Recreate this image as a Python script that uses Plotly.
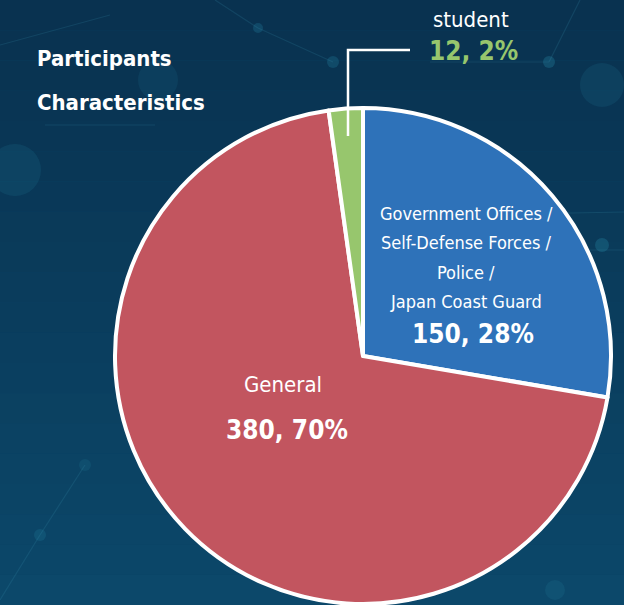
import plotly.graph_objects as go

categories = ["Government Offices / Self-Defense Forces / Police / Japan Coast Guard", "General", "student"]
values = [150, 380, 12]
percents = ["28%", "70%", "2%"]
colors = ["#2e72b9", "#c2555f", "#97c66d"]

W, H = 624, 605
def px(x):
    return x / W
def py(y):
    return 1 - y / H

FONT = "DejaVu Sans Condensed, Liberation Sans Narrow, sans-serif"

fig = go.Figure()
fig.add_trace(go.Pie(
    labels=categories,
    values=values,
    sort=False,
    direction="clockwise",
    rotation=0,
    textinfo="none",
    hoverinfo="label+value+percent",
    marker=dict(colors=colors, line=dict(color="white", width=4)),
    domain=dict(x=[px(115), px(611)], y=[py(604), py(108)]),
    showlegend=False,
))

shapes = []
# vertical gradient background
top = (9, 50, 80)
bot = (12, 72, 106)
n = 20
for i in range(n):
    t = i / (n - 1)
    c = tuple(int(top[k] + (bot[k] - top[k]) * t) for k in range(3))
    shapes.append(dict(type="rect", xref="paper", yref="paper", x0=0, x1=1,
                       y0=1 - (i + 1) / n, y1=1 - i / n,
                       fillcolor=f"rgb{c}", line=dict(width=0), layer="below"))
# faint network decoration
for (cx, cy, r, a) in [(15, 170, 26, 0.15), (158, 80, 20, 0.12), (602, 85, 22, 0.14), (549, 62, 6, 0.3),
                       (333, 62, 6, 0.25), (258, 28, 5, 0.25), (602, 245, 7, 0.3), (555, 590, 10, 0.15),
                       (40, 535, 6, 0.2), (85, 465, 6, 0.15)]:
    shapes.append(dict(type="circle", xref="paper", yref="paper",
                       x0=px(cx - r), x1=px(cx + r), y0=py(cy + r), y1=py(cy - r),
                       fillcolor=f"rgba(40,140,170,{a})", line=dict(width=0), layer="below"))
for (x0, y0, x1, y1) in [(0, 45, 110, 15), (215, 0, 258, 28), (258, 28, 333, 62), (430, 62, 549, 62),
                         (580, 0, 549, 62), (45, 125, 155, 125), (0, 600, 40, 535), (40, 535, 85, 465),
                         (470, 215, 624, 212), (560, 250, 624, 250)]:
    shapes.append(dict(type="line", xref="paper", yref="paper",
                       x0=px(x0), y0=py(y0), x1=px(x1), y1=py(y1),
                       line=dict(color="rgba(60,150,180,0.18)", width=1.2), layer="below"))
# leader line for student
shapes.append(dict(type="path", xref="paper", yref="paper",
                   path=f"M {px(348)} {py(136)} L {px(348)} {py(50)} L {px(410)} {py(50)}",
                   line=dict(color="white", width=2.5)))

annotations = [
    dict(x=px(35), y=py(59), text="<b>Participants</b>", xanchor="left", yanchor="middle",
         font=dict(family=FONT, size=22, color="white")),
    dict(x=px(35), y=py(103), text="<b>Characteristics</b>", xanchor="left", yanchor="middle",
         font=dict(family=FONT, size=22, color="white")),
    dict(x=px(471), y=py(19), text="student", xanchor="center", yanchor="middle",
         font=dict(family=FONT, size=22, color="white")),
    dict(x=px(473), y=py(51), text=f"<b>{values[2]}, {percents[2]}</b>", xanchor="center", yanchor="middle",
         font=dict(family=FONT, size=26, color=colors[2])),
    dict(x=px(283), y=py(384), text="General", xanchor="center", yanchor="middle",
         font=dict(family=FONT, size=22, color="white")),
    dict(x=px(287), y=py(430), text=f"<b>{values[1]}, {percents[1]}</b>", xanchor="center", yanchor="middle",
         font=dict(family=FONT, size=26, color="white")),
]
gov_lines = ["Government Offices /", "Self-Defense Forces /", "Police /", "Japan Coast Guard"]
for i, t in enumerate(gov_lines):
    annotations.append(dict(x=px(466), y=py(213 + 29.5 * i), text=t, xanchor="center", yanchor="middle",
                            font=dict(family=FONT, size=18, color="white")))
annotations.append(dict(x=px(473), y=py(334), text=f"<b>{values[0]}, {percents[0]}</b>", xanchor="center",
                        yanchor="middle", font=dict(family=FONT, size=26, color="white")))
for a in annotations:
    a.update(xref="paper", yref="paper", showarrow=False)

fig.update_layout(
    width=W, height=H,
    margin=dict(l=0, r=0, t=0, b=0),
    paper_bgcolor="#0b4265",
    plot_bgcolor="#0b4265",
    shapes=shapes,
    annotations=annotations,
)
fig.write_html("out.html",
               config={"displayModeBar": False},
               post_script="document.body.style.margin='0';document.body.style.padding='0';"
                           "document.body.style.overflow='hidden';")
